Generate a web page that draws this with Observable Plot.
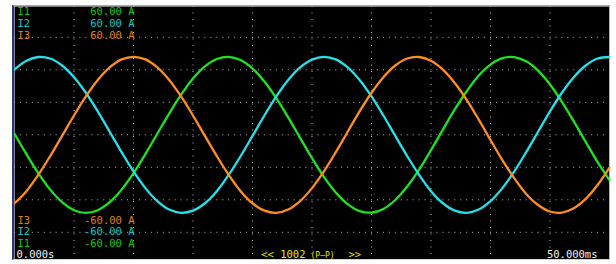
<!DOCTYPE html>
<html>
<head>
<meta charset="utf-8">
<script src="https://cdn.jsdelivr.net/npm/d3@7"></script>
<script src="https://cdn.jsdelivr.net/npm/@observablehq/plot@0.6"></script>
<style>
  html, body { margin: 0; padding: 0; background: #fff; }
  #wrap { position: relative; width: 616px; height: 264px; }
  #border { position: absolute; left: 12px; top: 5px; width: 598px; height: 255px; box-sizing: border-box;
    border-top: 1px solid #a8a8a8; border-left: 2px solid #27358a; border-right: 1px solid #b4b4b4; border-bottom: 1px solid #d4d4d4; pointer-events: none; }
</style>
</head>
<body>
<div id="wrap"><div id="border"></div></div>
<script>
// time samples (ms)
const timeMs = [0,1,2,3,4,5,6,7,8,9,10,11,12,13,14,15,16,17,18,19,20,21,22,23,24,25,26,27,28,29,30,31,32,33,34,35,36,37,38,39,40,41,42,43,44,45,46,47,48,49,50];
// I1 (green), A
const i1 = [0.5,-8.9,-17.7,-25.3,-31.1,-34.8,-36.0,-34.8,-31.1,-25.3,-17.7,-8.9,0.5,9.8,18.5,26.0,31.6,35.0,36.0,34.5,30.6,24.6,16.9,8.0,-1.4,-10.8,-19.4,-26.6,-32.0,-35.2,-35.9,-34.2,-30.1,-23.9,-16.1,-7.1,2.4,11.7,20.1,27.3,32.4,35.4,35.9,33.9,29.6,23.2,15.2,6.2,-3.3,-12.6,-20.9];
// I2 (cyan), A
const i2 = [30.1,34.2,35.9,35.2,32.0,26.6,19.4,10.8,1.4,-8.0,-16.9,-24.6,-30.6,-34.5,-36.0,-35.0,-31.6,-26.0,-18.5,-9.9,-0.5,8.9,17.7,25.3,31.1,34.7,36.0,34.8,31.1,25.3,17.7,8.9,-0.5,-9.8,-18.5,-26.0,-31.6,-35.0,-36.0,-34.5,-30.6,-24.6,-16.9,-8.0,1.4,10.8,19.4,26.6,32.0,35.2,35.9];
// I3 (orange), A
const i3 = [-31.6,-26.0,-18.5,-9.8,-0.5,8.9,17.7,25.3,31.1,34.8,36.0,34.8,31.1,25.3,17.7,8.9,-0.5,-9.8,-18.5,-26.0,-31.6,-35.0,-36.0,-34.5,-30.6,-24.6,-16.9,-8.0,1.4,10.8,19.4,26.6,32.0,35.2,35.9,34.2,30.1,23.9,16.1,7.1,-2.4,-11.7,-20.1,-27.3,-32.4,-35.4,-35.9,-33.9,-29.6,-23.2,-15.2];

const seriesNames = ["I1", "I2", "I3"];
const traceColors = ["#1ee41e", "#22e2ee", "#ff8e1c"];
const labelColors = ["#10c810", "#10c4c8", "#e08010"];
const topScale = "60.00 A";
const bottomScale = "-60.00 A";
const timeStart = "0.000s";
const timeEnd = "50.000ms";
const centerLeft = "<< 1002";
const centerMid = "(P\u2014P)";
const centerRight = ">>";
const xGrid = [5,10,15,20,25,30,35,40,45];
const yGrid = [-45,-30,-15,0,15,30,45];

const font = "DejaVu Sans Mono";
const fs = 10.5;
const txt = (text, color, anchor, tAnchor, dx, dy, size = fs, ls = -0.3) =>
  Plot.text([text], {text: d => d, frameAnchor: anchor, textAnchor: tAnchor, lineAnchor: "middle",
    dx, dy, fill: color, fontSize: size, fontFamily: font, style: `letter-spacing:${ls}px`});

const marks = [
  Plot.frame({fill: "black", stroke: null}),
  Plot.ruleX(xGrid, {stroke: "#b8b8b8", strokeWidth: 1, strokeDasharray: "1,5.5"}),
  Plot.ruleY(yGrid, {stroke: "#b8b8b8", strokeWidth: 1, strokeDasharray: "1,4.95"}),
  Plot.line(i1, {x: (d, i) => timeMs[i], y: d => d, stroke: traceColors[0], strokeWidth: 2.3, curve: "catmull-rom"}),
  Plot.line(i2, {x: (d, i) => timeMs[i], y: d => d, stroke: traceColors[1], strokeWidth: 2.3, curve: "catmull-rom"}),
  Plot.line(i3, {x: (d, i) => timeMs[i], y: d => d, stroke: traceColors[2], strokeWidth: 2.3, curve: "catmull-rom"}),
  // top labels
  txt(seriesNames[0], labelColors[0], "top-left", "start", 3, 5.5),
  txt(seriesNames[1], labelColors[1], "top-left", "start", 3, 17.5),
  txt(seriesNames[2], labelColors[2], "top-left", "start", 3, 29.5),
  txt(topScale, labelColors[0], "top-left", "end", 120, 5.5),
  txt(topScale, labelColors[1], "top-left", "end", 120, 17.5),
  txt(topScale, labelColors[2], "top-left", "end", 120, 29.5),
  // bottom labels
  txt(seriesNames[2], labelColors[2], "bottom-left", "start", 3, -39),
  txt(seriesNames[1], labelColors[1], "bottom-left", "start", 3, -27.5),
  txt(seriesNames[0], labelColors[0], "bottom-left", "start", 3, -16),
  txt(bottomScale, labelColors[2], "bottom-left", "end", 120, -39),
  txt(bottomScale, labelColors[1], "bottom-left", "end", 120, -27.5),
  txt(bottomScale, labelColors[0], "bottom-left", "end", 120, -16),
  txt(timeStart, "#f0f0f0", "bottom-left", "start", 2, -4.5),
  txt(timeEnd, "#f0f0f0", "bottom-right", "end", -12, -4.5),
  // center
  txt(centerLeft, "#e6e600", "bottom-left", "end", 291, -4.5),
  txt(centerMid, "#e6e600", "bottom-left", "start", 296, -4.5, 8, 0),
  txt(centerRight, "#e6e600", "bottom-left", "start", 334, -4.5)
];

const chart = Plot.plot({
  width: 616,
  height: 264,
  marginLeft: 14,
  marginRight: 7,
  marginTop: 6,
  marginBottom: 5,
  x: {domain: [0, 50], axis: null},
  y: {domain: [-60, 60], range: [264.3, 4.3], axis: null},
  style: {background: "white"},
  marks
});
document.getElementById("wrap").prepend(chart);
</script>
</body>
</html>
